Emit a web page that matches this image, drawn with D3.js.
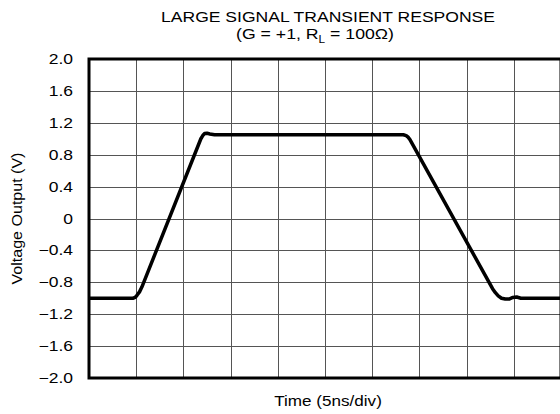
<!DOCTYPE html>
<html>
<head>
<meta charset="utf-8">
<script src="https://cdn.jsdelivr.net/npm/d3@7"></script>
<style>
  body { margin: 0; background: #fff; }
  svg { display: block; font-family: "Liberation Sans", Arial, sans-serif; }
</style>
</head>
<body>
<svg width="560" height="414"></svg>
<script>
// trace, time in divisions (5ns/div), volts
const timeDiv = [0, 0.93, 0.98, 1.02, 1.07, 1.12, 2.37, 2.41, 2.45, 2.5, 2.56, 2.66, 6.66, 6.72, 6.76, 6.8, 8.55, 8.61, 8.67, 8.74, 8.82, 8.9, 8.98, 9.06, 9.15, 10];
const volts   = [-1.0, -1.0, -0.99, -0.96, -0.92, -0.86, 1.0, 1.04, 1.065, 1.07, 1.06, 1.05, 1.05, 1.04, 1.02, 0.99, -0.88, -0.93, -0.97, -1.0, -1.01, -1.01, -0.99, -0.985, -1.0, -1.0];

const yTicks = [2.0, 1.6, 1.2, 0.8, 0.4, 0, -0.4, -0.8, -1.2, -1.6, -2.0];
const xGrid = d3.range(1, 10);

const svg = d3.select("svg");
const plotL = 89, plotR = 561, plotT = 59, plotB = 378;

const x = d3.scaleLinear().domain([0, 10]).range([plotL, plotR]);
const y = d3.scaleLinear().domain([-2, 2]).range([plotB, plotT]);

// the original lettering is a wide helvetica, so stretch text sideways
function label(px, py, txt, size, sx, anchor, rot) {
  const g = svg.append("g")
    .attr("transform", `translate(${px},${py})` + (rot ? ` rotate(${rot})` : ""));
  return g.append("text")
    .attr("transform", `scale(${sx},1)`)
    .attr("text-anchor", anchor || "middle")
    .attr("font-size", size)
    .text(txt);
}

// grid
svg.append("g")
  .attr("stroke", "#555")
  .attr("stroke-width", 1)
  .selectAll("line")
  .data(xGrid)
  .join("line")
    .attr("x1", d => Math.round(x(d)) + 0.5)
    .attr("x2", d => Math.round(x(d)) + 0.5)
    .attr("y1", plotT)
    .attr("y2", plotB);

svg.append("g")
  .attr("stroke", "#555")
  .attr("stroke-width", 1)
  .selectAll("line")
  .data(yTicks.slice(1, -1))
  .join("line")
    .attr("y1", d => Math.round(y(d)) + 0.5)
    .attr("y2", d => Math.round(y(d)) + 0.5)
    .attr("x1", plotL)
    .attr("x2", plotR);

// frame
svg.append("rect")
  .attr("x", plotL)
  .attr("y", plotT)
  .attr("width", plotR - plotL)
  .attr("height", plotB - plotT)
  .attr("fill", "none")
  .attr("stroke", "#000")
  .attr("stroke-width", 3);

// y tick labels
const fmt = d => d === 0 ? "0" : d3.format(".1f")(d);
yTicks.forEach(d => {
  label(73, y(d) + 5, fmt(d), 14, 1.25, "end");
});

// trace
const line = d3.line()
  .x((d, i) => x(timeDiv[i]))
  .y(d => y(d));

svg.append("path")
  .datum(volts)
  .attr("fill", "none")
  .attr("stroke", "#000")
  .attr("stroke-width", 3.5)
  .attr("stroke-linejoin", "round")
  .attr("d", line);

// titles
label(328, 22, "LARGE SIGNAL TRANSIENT RESPONSE", 15, 1.17);

const sub = label(315, 39, "", 15, 1.18);
sub.append("tspan").text("(G = +1, R");
sub.append("tspan").attr("font-size", 10).attr("dy", 4).text("L");
sub.append("tspan").attr("dy", -4).text(" = 100Ω)");

label(328, 406, "Time (5ns/div)", 15, 1.14);

label(22, y(0), "Voltage Output (V)", 15, 1.07, "middle", -90);
</script>
</body>
</html>
